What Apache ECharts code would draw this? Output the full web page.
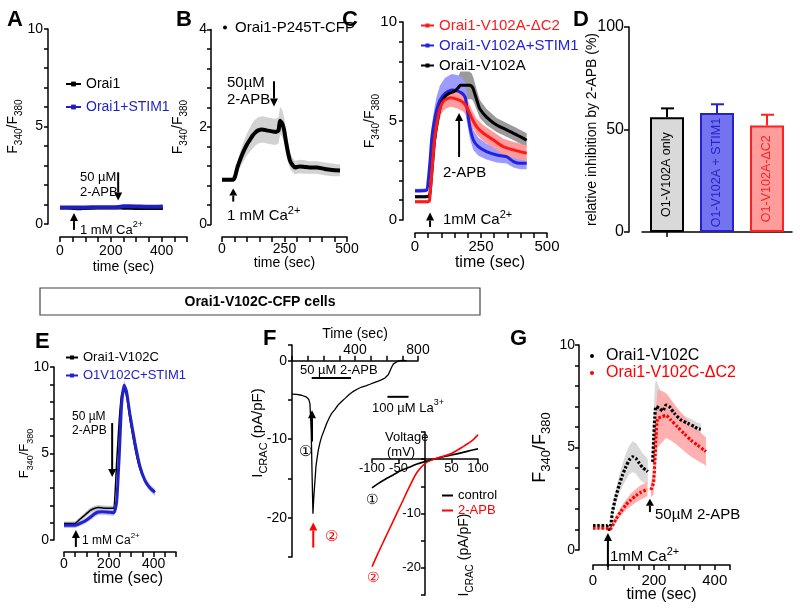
<!DOCTYPE html>
<html><head><meta charset="utf-8">
<script src="https://cdn.jsdelivr.net/npm/echarts@6/dist/echarts.min.js"></script>
<style>html,body{margin:0;padding:0;background:#fff}#c{width:800px;height:615px}</style>
</head><body><div id="c"></div>
<script>
const FONT = '"Liberation Sans", Arial, Helvetica, sans-serif';

// ---------------- Panel A ----------------
const aTime = [0, 25, 50, 75, 100, 150, 200, 230, 250, 300, 350, 405];
const aOrai1 = [0.82, 0.82, 0.80, 0.78, 0.80, 0.82, 0.83, 0.82, 0.81, 0.80, 0.79, 0.80];
const aOrai1Stim1 = [0.85, 0.85, 0.84, 0.84, 0.85, 0.86, 0.86, 0.87, 0.91, 0.90, 0.88, 0.90];
const aXLabels = [0, 200, 400];
const aYLabels = [0, 5, 10];

// ---------------- Panel B ----------------
const bTime = [0, 20, 44, 52, 62, 72, 82, 92, 102, 112, 122, 132, 145, 160, 180, 200, 214, 226, 232, 240, 248, 256, 264, 272, 282, 292, 310, 330, 350, 380, 410, 440, 472];
const bMean = [0.92, 0.92, 0.92, 0.98, 1.18, 1.32, 1.45, 1.56, 1.66, 1.74, 1.82, 1.88, 1.93, 1.95, 1.93, 1.91, 1.90, 1.93, 2.13, 2.08, 1.95, 1.70, 1.48, 1.31, 1.22, 1.17, 1.19, 1.18, 1.17, 1.17, 1.14, 1.12, 1.11];
const bSem = [0.04, 0.04, 0.04, 0.06, 0.12, 0.16, 0.19, 0.21, 0.23, 0.25, 0.26, 0.27, 0.27, 0.27, 0.27, 0.27, 0.27, 0.27, 0.28, 0.28, 0.26, 0.23, 0.19, 0.16, 0.15, 0.14, 0.14, 0.14, 0.13, 0.13, 0.13, 0.13, 0.12];
const bXLabels = [0, 250, 500];
const bYLabels = [0, 2, 4];

// ---------------- Panel C ----------------
const cBlueTime = [0, 20, 44, 50, 57, 64, 72, 82, 95, 114, 139, 160, 178, 190, 198, 208, 221, 240, 271, 309, 347, 373, 398, 423];
const cBlueMean = [1.48, 1.48, 1.5, 2.0, 3.0, 4.2, 4.9, 5.55, 6.06, 6.4, 6.57, 6.52, 6.4, 6.2, 5.56, 4.7, 4.04, 3.7, 3.45, 3.28, 3.2, 2.95, 2.86, 2.86];
const cBlueSem = [0.1, 0.1, 0.1, 0.3, 0.5, 0.6, 0.65, 0.7, 0.75, 0.78, 0.8, 0.8, 0.78, 0.75, 0.7, 0.6, 0.5, 0.45, 0.4, 0.38, 0.35, 0.3, 0.3, 0.3];
const cRedTime = [0, 20, 40, 54, 57, 63, 72, 82, 95, 108, 133, 158, 183, 198, 215, 234, 259, 297, 335, 373, 423];
const cRedMean = [0.92, 0.92, 0.92, 0.95, 1.3, 2.3, 3.8, 4.8, 5.66, 6.0, 6.18, 6.1, 5.93, 5.66, 5.15, 4.7, 4.38, 4.04, 3.7, 3.54, 3.37];
const cRedSem = [0.08, 0.08, 0.08, 0.1, 0.2, 0.3, 0.4, 0.45, 0.45, 0.45, 0.45, 0.45, 0.45, 0.45, 0.42, 0.4, 0.4, 0.4, 0.4, 0.4, 0.4];
const cBlackTime = [0, 20, 40, 54, 58, 65, 74, 85, 98, 112, 130, 150, 165, 172, 205, 215, 221, 234, 246, 271, 309, 347, 385, 423];
const cBlackMean = [1.18, 1.18, 1.18, 1.2, 1.5, 2.6, 4.0, 5.0, 5.8, 6.2, 6.4, 6.5, 6.7, 6.8, 6.8, 6.75, 6.6, 6.06, 5.6, 5.2, 4.8, 4.55, 4.3, 4.03];
const cBlackSem = [0.08, 0.08, 0.08, 0.1, 0.2, 0.3, 0.4, 0.45, 0.45, 0.45, 0.45, 0.5, 0.6, 0.7, 0.7, 0.65, 0.6, 0.5, 0.45, 0.4, 0.35, 0.35, 0.35, 0.35];
const cXLabels = [0, 250, 500];
const cYLabels = [0, 5, 10];

// ---------------- Panel D ----------------
const dCats = ['O1-V102A only', 'O1-V102A + STIM1', 'O1-V102A-\u0394C2'];
const dMean = [56, 58, 52];
const dErr = [4.3, 4.3, 5.2];
const dYLabels = [0, 50, 100];

// ---------------- Panel E ----------------
const eTime = [0, 21, 49, 71, 94, 116, 135, 153, 172, 190, 207, 223, 235, 247, 257, 268, 279, 294, 317, 339, 361, 384, 406];
const eBlack = [0.95, 0.95, 0.95, 1.2, 1.45, 1.7, 1.82, 1.88, 1.85, 1.83, 1.83, 1.83, 4.5, 7.0, 8.4, 8.7, 8.4, 7.0, 5.3, 4.1, 3.45, 3.05, 2.8];
const eBlackSem = [0.12, 0.12, 0.12, 0.12, 0.14, 0.15, 0.15, 0.15, 0.15, 0.15, 0.15, 0.15, 0.2, 0.25, 0.25, 0.25, 0.25, 0.2, 0.18, 0.15, 0.15, 0.15, 0.15];
const eBlue = [0.85, 0.85, 0.85, 0.96, 1.1, 1.3, 1.5, 1.62, 1.64, 1.62, 1.6, 1.58, 2.2, 5.0, 7.8, 8.95, 8.6, 7.3, 5.6, 4.25, 3.45, 3.0, 2.75];
const eBlueSem = [0.15, 0.15, 0.15, 0.15, 0.16, 0.18, 0.18, 0.18, 0.18, 0.18, 0.18, 0.18, 0.2, 0.25, 0.28, 0.28, 0.28, 0.25, 0.22, 0.2, 0.2, 0.2, 0.2];
const eXLabels = [0, 200, 400];
const eYLabels = [0, 5, 10];

// ---------------- Panel F ----------------
const fTime = [0, 30, 61, 89, 106, 114, 122, 128, 133, 138, 145, 152, 160, 167, 178, 188, 205, 220, 236, 252, 273, 294, 315, 337, 363, 390, 416, 442, 468, 495, 521, 548, 570, 590, 600, 611, 622, 633, 644, 654, 670, 686, 705, 728];
const fCurrent = [-4.25, -4.3, -4.4, -4.6, -4.9, -5.5, -9.0, -15.0, -19.5, -17.5, -15.5, -13.5, -12.3, -11.4, -10.4, -9.7, -8.8, -8.0, -7.3, -6.7, -6.2, -5.6, -5.2, -4.8, -4.3, -3.9, -3.6, -3.35, -3.2, -3.0, -2.8, -2.6, -2.4, -2.2, -2.1, -1.8, -1.3, -0.8, -0.4, -0.2, -0.1, 0.0, 0.05, 0.0];
const fXLabels = [400, 800];
const fYLabels = [0, -10, -20];
const ivVolt = [-100, -90, -75, -60, -45, -30, -15, 0, 15, 30, 50, 70, 90, 100];
const ivControl = [-5.3, -4.6, -3.7, -2.9, -2.1, -1.5, -0.9, -0.45, -0.05, 0.35, 0.75, 1.2, 1.7, 1.9];
const iv2APB = [-19.8, -17.6, -14.5, -11.4, -8.3, -5.2, -2.4, -0.8, -0.06, 0.4, 1.05, 2.2, 3.5, 4.5];
const ivXLabels = [-100, -50, 50, 100];
const ivYLabels = [-10, -20];

// ---------------- Panel G ----------------
const gBlackTime = [0, 20, 44, 53, 59, 64, 75, 86, 97, 108, 119, 130, 141, 152, 163, 174, 180, 188, 196, 200, 203, 207, 218, 229, 240, 251, 267, 289, 311, 333, 343, 354];
const gBlackMean = [1.19, 1.19, 1.19, 1.0, 1.28, 1.87, 2.6, 3.17, 3.66, 4.06, 4.39, 4.55, 4.47, 4.23, 4.02, 3.9, 3.82, null, 4.3, 5.6, 6.5, 6.99, 6.91, 6.78, 7.07, 6.99, 6.67, 6.34, 6.18, 6.02, 5.93, 5.89];
const gBlackSem = [0.05, 0.05, 0.05, 0.05, 0.1, 0.2, 0.35, 0.45, 0.55, 0.65, 0.7, 0.75, 0.75, 0.75, 0.7, 0.65, 0.6, null, 1.0, 1.4, 1.5, 1.3, 1.0, 0.6, 0.45, 0.35, 0.3, 0.3, 0.28, 0.28, 0.28, 0.28];
const gRedTime = [0, 20, 44, 53, 59, 75, 91, 108, 124, 141, 157, 174, 179, 185, 190, 199, 204, 207, 212, 223, 240, 256, 278, 300, 322, 343, 365, 371];
const gRedMean = [1.06, 1.06, 1.06, 1.0, 1.05, 1.5, 1.87, 2.2, 2.44, 2.65, 2.81, 2.93, 2.97, null, 2.93, 3.3, 4.6, 5.58, 6.4, 6.48, 6.56, 6.34, 6.0, 5.67, 5.35, 5.12, 4.87, 4.8];
const gRedSem = [0.04, 0.04, 0.04, 0.05, 0.08, 0.15, 0.2, 0.25, 0.3, 0.33, 0.35, 0.35, 0.35, null, 0.35, 0.6, 1.0, 1.3, 1.4, 1.3, 1.1, 1.0, 0.9, 0.85, 0.8, 0.75, 0.7, 0.7];
const gXLabels = [0, 200, 400];
const gYLabels = [0, 5, 10];

// ---------------- helpers ----------------
function pairs(t, v) { return t.map((x, i) => [x, v[i] == null ? null : v[i]]); }
function merge(a, b) {
  const out = Object.assign({}, a);
  for (const k in b) {
    const v = b[k];
    if (v && typeof v === 'object' && !Array.isArray(v) && typeof v !== 'function' && out[k] && typeof out[k] === 'object' && !Array.isArray(out[k])) out[k] = merge(out[k], v);
    else out[k] = v;
  }
  return out;
}
const showOnly = (list) => (v) => { for (const l of list) if (Math.abs(v - l) < 0.01) return String(l); return ''; };
function valAxis(gi, cfg) {
  const base = {
    gridIndex: gi, type: 'value',
    axisLine: { show: true, onZero: false, lineStyle: { color: '#000', width: 1.5 } },
    axisTick: { show: true, length: 5, lineStyle: { color: '#000', width: 1.5 } },
    minorTick: { show: false }, splitLine: { show: false }, minorSplitLine: { show: false },
    axisLabel: { color: '#000', fontFamily: FONT, fontSize: 14, margin: 6, hideOverlap: false },
    nameTextStyle: { color: '#000', fontFamily: FONT, fontSize: 14 },
    nameLocation: 'middle', nameMoveOverlap: false
  };
  return merge(base, cfg);
}
function subRich(size) {
  return {
    n: { fontSize: size, fontFamily: FONT, color: '#000', fill: '#000', lineHeight: size + 8, verticalAlign: 'middle' },
    s: { fontSize: Math.round(size * 0.7), fontFamily: FONT, color: '#000', fill: '#000', lineHeight: 12, verticalAlign: 'bottom' }
  };
}
function supRich(size, color) {
  color = color || '#000';
  return {
    n: { fontSize: size, fontFamily: FONT, color: color, fill: color, lineHeight: size + 7, verticalAlign: 'middle' },
    p: { fontSize: Math.round(size * 0.7), fontFamily: FONT, color: color, fill: color, lineHeight: 10, verticalAlign: 'top' }
  };
}
const F340 = '{n|F}{s|340}{n|/F}{s|380}';

// shaded mean +/- sem band drawn through the axis scales (api.coord)
function band(gi, t, mean, sem, color, opacity, z) {
  const lo = mean.map((m, i) => m == null ? null : m - sem[i]);
  const hi = mean.map((m, i) => m == null ? null : m + sem[i]);
  return {
    type: 'custom', xAxisIndex: gi, yAxisIndex: gi, silent: true, z: z || 1, clip: true,
    data: t.map((x, i) => [x, lo[i], hi[i]]),
    encode: { x: 0, y: [1, 2] },
    renderItem: (params, api) => {
      if (params.dataIndex !== 0) return null;
      const segs = []; let cur = [];
      for (let j = 0; j < t.length; j++) {
        if (lo[j] == null) { if (cur.length) segs.push(cur); cur = []; } else cur.push(j);
      }
      if (cur.length) segs.push(cur);
      return { type: 'group', children: segs.filter(s => s.length > 1).map(s => {
        const top = s.map(j => api.coord([t[j], hi[j]]));
        const bot = s.slice().reverse().map(j => api.coord([t[j], lo[j]]));
        return { type: 'polygon', shape: { points: top.concat(bot) }, style: { fill: color, opacity: opacity == null ? 1 : opacity } };
      }) };
    }
  };
}
function trace(name, gi, t, v, color, width, extra) {
  return merge({ name: name, type: 'line', xAxisIndex: gi, yAxisIndex: gi, data: pairs(t, v), symbol: 'rect', symbolSize: 4, showSymbol: false, smooth: 0.2,
    lineStyle: { color: color, width: width }, itemStyle: { color: color }, z: 3 }, extra || {});
}

const dFill = ['#d9d9d9', '#7373f0', '#ff9d9d'];
const dEdge = ['#000000', '#2323c8', '#ff2020'];

const gridF = { left: 292, top: 345, width: 126, height: 212 };
const gridIV = { left: 372, top: 432, width: 106, height: 163 };
const fYMin = -25, fYMax = 2, ivYMin = -25, ivYMax = 5, ivXMin = -100, ivXMax = 100;

const grids = [
  { left: 60, top: 29, width: 127, height: 195 },    // A
  { left: 222, top: 29.5, width: 125, height: 195 }, // B
  { left: 415, top: 22, width: 132, height: 198 },   // C
  { left: 642, top: 27, width: 150, height: 205 },   // D
  { left: 64, top: 367, width: 112, height: 173 },   // E
  gridF,                                             // F main
  gridIV,                                            // F inset
  { left: 593, top: 345, width: 137, height: 205 }   // G
].map(g => Object.assign({ outerBoundsMode: 'none', containLabel: false }, g));

// axis positions on the zero lines (F panels)
const fXOffset = -(fYMax / (fYMax - fYMin)) * gridF.height;
const ivXOffset = -((0 - ivYMin) / (ivYMax - ivYMin)) * gridIV.height;
const ivYOffset = -((0 - ivXMin) / (ivXMax - ivXMin)) * gridIV.width;

const xAxis = [
  valAxis(0, { min: 0, max: 500, interval: 50, offset: 13, axisLabel: { formatter: showOnly(aXLabels), margin: 7 }, name: 'time (sec)', nameGap: 23 }),
  valAxis(1, { min: 0, max: 500, interval: 50, offset: 12.5, axisLabel: { formatter: showOnly(bXLabels), margin: 5 }, name: 'time (sec)', nameGap: 19 }),
  valAxis(2, { min: 0, max: 500, interval: 50, offset: 13, axisLabel: { formatter: showOnly(cXLabels), margin: 6, fontSize: 15 }, name: 'time (sec)', nameGap: 22, nameTextStyle: { fontSize: 16, padding: [0, 0, 0, 18] } }),
  { gridIndex: 3, type: 'category', data: dCats, offset: 13,
    axisLine: { show: true, lineStyle: { color: '#000', width: 1.5 } },
    axisTick: { show: true, alignWithLabel: true, length: 5, lineStyle: { color: '#000', width: 1.5 } },
    axisLabel: { show: false }, splitLine: { show: false } },
  valAxis(4, { min: 0, max: 500, interval: 50, offset: 12, axisLabel: { formatter: showOnly(eXLabels), margin: 5 }, name: 'time (sec)', nameGap: 19, nameTextStyle: { fontSize: 16, padding: [0, 0, 0, 16] } }),
  valAxis(5, { min: 0, max: 800, interval: 100, position: 'top', offset: fXOffset, axisLabel: { formatter: showOnly(fXLabels), margin: 4 }, name: 'Time (sec)', nameGap: 20 }),
  valAxis(6, { min: ivXMin, max: ivXMax, interval: 50, position: 'bottom', offset: ivXOffset, axisTick: { length: 4 }, axisLabel: { formatter: showOnly(ivXLabels), fontSize: 13, margin: 3 } }),
  valAxis(7, { min: 0, max: 450, interval: 50, offset: 15, axisLabel: { formatter: showOnly(gXLabels), margin: 8, fontSize: 15 }, name: 'time (sec)', nameGap: 22, nameTextStyle: { fontSize: 16 } })
];

const yAxis = [
  valAxis(0, { min: 0, max: 10, interval: 1, offset: 12, axisTick: { length: 4 }, axisLabel: { formatter: showOnly(aYLabels), margin: 5 }, name: F340, nameGap: 24, nameTextStyle: { rich: subRich(14) } }),
  valAxis(1, { min: 0, max: 4, interval: 0.4, offset: 11, axisTick: { length: 4 }, axisLabel: { formatter: showOnly(bYLabels), margin: 4 }, name: F340, nameGap: 22, nameTextStyle: { rich: subRich(14) } }),
  valAxis(2, { min: 0, max: 10, interval: 1, offset: 12, axisTick: { length: 4 }, axisLabel: { formatter: showOnly(cYLabels), margin: 6, fontSize: 15 }, name: F340, nameGap: 22, nameTextStyle: { rich: subRich(14) } }),
  valAxis(3, { min: 0, max: 100, interval: 50, offset: 13, axisLabel: { formatter: showOnly(dYLabels), margin: 5, fontSize: 16 }, name: 'relative inhibition by 2-APB (%)', nameGap: 30, nameTextStyle: { fontSize: 14 } }),
  valAxis(4, { min: 0, max: 10, interval: 1, offset: 10, axisTick: { length: 4 }, axisLabel: { formatter: showOnly(eYLabels), margin: 5 }, name: F340, nameGap: 19, nameTextStyle: { rich: subRich(13) } }),
  valAxis(5, { min: fYMin, max: fYMax, interval: 5, axisTick: { length: 4 }, axisLabel: { formatter: showOnly(fYLabels), margin: 5 } }),
  valAxis(6, { min: ivYMin, max: ivYMax, interval: 5, position: 'left', offset: ivYOffset, axisTick: { length: 4 }, axisLabel: { formatter: showOnly(ivYLabels), fontSize: 13, margin: 4 } }),
  valAxis(7, { min: 0, max: 10, interval: 1, offset: 14, axisTick: { length: 4 }, axisLabel: { formatter: showOnly(gYLabels), margin: 4 }, name: F340, nameGap: 26, nameTextStyle: { rich: subRich(18) } })
];

const legTxt = (size) => ({ fontFamily: FONT, fontSize: size, color: '#000' });
const legend = [
  { left: 60, top: 72, orient: 'vertical', itemWidth: 15, itemHeight: 6, itemGap: 9, selectedMode: false, textStyle: legTxt(14),
    data: [{ name: 'Orai1' }, { name: 'Orai1+STIM1', textStyle: { color: '#1f1fbf' } }] },
  { left: 218, top: 15, orient: 'vertical', itemWidth: 10, itemHeight: 4, selectedMode: false, textStyle: legTxt(15),
    data: [{ name: 'Orai1-P245T-CFP', icon: 'circle' }] },
  { left: 415, top: 13, orient: 'vertical', itemWidth: 13, itemHeight: 5, itemGap: 5, selectedMode: false, textStyle: legTxt(15),
    data: [{ name: 'Orai1-V102A-\u0394C2', textStyle: { color: '#ff1a1a' } }, { name: 'Orai1-V102A+STIM1', textStyle: { color: '#2222dd' } }, { name: 'Orai1-V102A' }] },
  { left: 60, top: 346, orient: 'vertical', itemWidth: 12, itemHeight: 5, itemGap: 5, selectedMode: false, textStyle: legTxt(13),
    data: [{ name: 'Orai1-V102C' }, { name: 'O1V102C+STIM1', textStyle: { color: '#2222cc' } }] },
  { left: 437, top: 484, orient: 'vertical', itemWidth: 11, itemHeight: 2, itemGap: 2, selectedMode: false, textStyle: legTxt(13),
    data: [{ name: 'control', icon: 'rect' }, { name: '2-APB', icon: 'rect', textStyle: { color: '#ff0000' } }] },
  { left: 585, top: 343, orient: 'vertical', itemWidth: 18, itemHeight: 4, itemGap: 1, selectedMode: false, textStyle: legTxt(16),
    data: [{ name: 'Orai1-V102C ', icon: 'circle' }, { name: 'Orai1-V102C-\u0394C2', icon: 'circle', textStyle: { color: '#ff0000' } }] }
];

const series = [
  // A
  trace('Orai1', 0, aTime, aOrai1, '#000', 3),
  trace('Orai1+STIM1', 0, aTime, aOrai1Stim1, '#1f1fbf', 4, { z: 4 }),
  // B
  band(1, bTime, bMean, bSem, '#d2d2d2', 1),
  trace('Orai1-P245T-CFP', 1, bTime, bMean, '#000', 4),
  // C
  band(2, cBlackTime, cBlackMean, cBlackSem, '#9a9a9a', 1, 1),
  band(2, cBlueTime, cBlueMean, cBlueSem, '#9c9cff', 1, 1),
  band(2, cRedTime, cRedMean, cRedSem, '#ff9b9b', 1, 1),
  trace('Orai1-V102A+STIM1', 2, cBlueTime, cBlueMean, '#2222dd', 3),
  trace('Orai1-V102A', 2, cBlackTime, cBlackMean, '#000', 3),
  trace('Orai1-V102A-\u0394C2', 2, cRedTime, cRedMean, '#ff1a1a', 3),
  // D
  { name: 'inhibition', type: 'bar', xAxisIndex: 3, yAxisIndex: 3, barWidth: 34, z: 2,
    data: dMean.map((v, i) => ({ value: v, itemStyle: { color: dFill[i], borderColor: dEdge[i], borderWidth: 2 },
      label: { color: dEdge[i] } })),
    label: { show: true, position: 'inside', rotate: 90, formatter: '{b}', fontFamily: FONT, fontSize: 12.5 } },
  { name: 'inhibitionErr', type: 'custom', xAxisIndex: 3, yAxisIndex: 3, z: 3, silent: true,
    data: dMean.map((m, i) => [i, m, m + dErr[i]]),
    renderItem: (p, api) => {
      const i = p.dataIndex;
      const base = api.coord([api.value(0), api.value(1)]);
      const top = api.coord([api.value(0), api.value(2)]);
      const c = dEdge[i];
      return { type: 'group', children: [
        { type: 'line', shape: { x1: base[0], y1: base[1], x2: top[0], y2: top[1] }, style: { stroke: c, lineWidth: 2 } },
        { type: 'line', shape: { x1: top[0] - 6, y1: top[1], x2: top[0] + 7, y2: top[1] }, style: { stroke: c, lineWidth: 2 } }
      ] };
    } },
  // E
  band(4, eTime, eBlack, eBlackSem, '#c4c4c4', 1, 1),
  band(4, eTime, eBlue, eBlueSem, '#bdbdff', 1, 1),
  trace('Orai1-V102C', 4, eTime, eBlack, '#000', 1.5, { smooth: 0.1 }),
  trace('O1V102C+STIM1', 4, eTime, eBlue, '#2222cc', 3, { smooth: 0.2 }),
  // F
  trace('Icrac', 5, fTime, fCurrent, '#000', 1.3, { smooth: false }),
  trace('control', 6, ivVolt, ivControl, '#000', 1.6, { smooth: 0.3, symbol: 'none' }),
  trace('2-APB', 6, ivVolt, iv2APB, '#ff0000', 1.6, { smooth: 0.3, symbol: 'none' }),
  // G
  band(7, gBlackTime, gBlackMean, gBlackSem, '#d9d9d9', 1, 1),
  band(7, gRedTime, gRedMean, gRedSem, '#ffa3a3', 0.85, 1),
  trace('Orai1-V102C ', 7, gBlackTime, gBlackMean, '#000', 3.2, { symbol: 'circle', lineStyle: { type: [2.5, 1.8] } }),
  trace('Orai1-V102C-\u0394C2', 7, gRedTime, gRedMean, '#ff0000', 3.2, { symbol: 'circle', lineStyle: { type: [2.5, 1.8] } })
];

const chart = echarts.init(document.getElementById('c'), null, { renderer: 'canvas' });
chart.setOption({ animation: false, backgroundColor: '#fff', textStyle: { fontFamily: FONT },
  grid: grids, xAxis: xAxis, yAxis: yAxis, legend: legend, series: series });

// ---------------- annotations ----------------
const arrows = [
  { g: 0, x: 55, y0: -0.3, y1: 0.56 },
  { g: 0, x: 229, y0: 2.65, y1: 1.2 },
  { g: 1, x: 45, y0: 0.47, y1: 0.74, head: 7 },
  { g: 1, x: 208, y0: 2.94, y1: 2.42 },
  { g: 2, x: 57, y0: -0.35, y1: 0.38 },
  { g: 2, x: 167, y0: 3.18, y1: 5.4 },
  { g: 4, x: 53, y0: -0.4, y1: 0.58 },
  { g: 4, x: 215, y0: 6.76, y1: 3.64 },
  { g: 5, x: 127, y0: -10.3, y1: -6.3 },
  { g: 5, x: 135, y0: -23.8, y1: -20.6, color: '#ff0000' },
  { g: 7, x: 49, y0: -0.83, y1: 0.83 },
  { g: 7, x: 187, y0: 1.85, y1: 2.5, head: 7 }
];
const fBars = [
  { g: 5, x0: 125, x1: 375, y: -2.2 },
  { g: 5, x0: 606, x1: 740, y: -4.6 }
];
const gr = [];
arrows.forEach(a => {
  const p0 = chart.convertToPixel({ gridIndex: a.g }, [a.x, a.y0]);
  const p1 = chart.convertToPixel({ gridIndex: a.g }, [a.x, a.y1]);
  const col = a.color || '#000';
  const dir = p1[1] > p0[1] ? 1 : -1;
  const hl = a.head || 8, hw = 4;
  const by = p1[1] - dir * hl;
  gr.push({ type: 'line', z: 50, shape: { x1: p0[0], y1: p0[1], x2: p1[0], y2: by }, style: { stroke: col, lineWidth: 2 } });
  gr.push({ type: 'polygon', z: 50, shape: { points: [[p1[0], p1[1]], [p1[0] - hw, by], [p1[0] + hw, by]] }, style: { fill: col } });
});
fBars.forEach(b => {
  const p0 = chart.convertToPixel({ gridIndex: b.g }, [b.x0, b.y]);
  const p1 = chart.convertToPixel({ gridIndex: b.g }, [b.x1, b.y]);
  gr.push({ type: 'line', z: 50, shape: { x1: p0[0], y1: p0[1], x2: p1[0], y2: p1[1] }, style: { stroke: '#000', lineWidth: 2 } });
});
function txt(x, y, text, o) {
  o = o || {};
  const st = { text: text, fontSize: o.size || 13, fontFamily: FONT, fontWeight: o.bold ? 'bold' : 'normal', fill: o.color || '#000',
    align: o.align || 'left', verticalAlign: o.va || 'middle', textAlign: o.align || 'left', textVerticalAlign: o.va || 'middle' };
  if (o.rich) st.rich = o.rich;
  return { type: 'text', x: x, y: y, z: 60, rotation: o.rot || 0, style: st };
}
[['A', 7, 9], ['B', 176, 9], ['C', 342, 9], ['D', 573, 9], ['E', 35, 331], ['F', 263, 328], ['G', 510, 328]].forEach(l =>
  gr.push(txt(l[1], l[2], l[0], { size: 22, bold: true, va: 'top' })));
gr.push({ type: 'rect', z: 40, shape: { x: 40, y: 288, width: 440, height: 27 }, style: { fill: 'none', stroke: '#444', lineWidth: 1.2 } });
gr.push(txt(260, 302, 'Orai1-V102C-CFP cells', { size: 14, bold: true, align: 'center' }));
// A
gr.push(txt(80, 177, '50 \u00b5M', { size: 13 }));
gr.push(txt(80, 192, '2-APB', { size: 13 }));
gr.push(txt(80, 230, '{n|1 mM Ca}{p|2+}', { rich: supRich(13) }));
// B
gr.push(txt(227, 83, '50\u00b5M', { size: 15 }));
gr.push(txt(227, 100, '2-APB', { size: 15 }));
gr.push(txt(227, 216, '{n|1 mM Ca}{p|2+}', { rich: supRich(15) }));
// C
gr.push(txt(443, 173, '2-APB', { size: 15 }));
gr.push(txt(443, 220, '{n|1mM Ca}{p|2+}', { rich: supRich(15) }));
// E
gr.push(txt(72, 417, '50 \u00b5M', { size: 12 }));
gr.push(txt(72, 431, '2-APB', { size: 12 }));
gr.push(txt(82, 541, '{n|1 mM Ca}{p|2+}', { rich: supRich(12) }));
// F
gr.push(txt(300, 370, '50 \u00b5M 2-APB', { size: 13 }));
gr.push(txt(372, 408, '{n|100 \u00b5M La}{p|3+}', { rich: supRich(13) }));
gr.push(txt(305, 452, '\u2460', { size: 15, align: 'center' }));
gr.push(txt(331, 537, '\u2461', { size: 15, align: 'center', color: '#ff0000' }));
gr.push(txt(258, 433, '{n|I}{s|CRAC}{n| (pA/pF)}', { rot: Math.PI / 2, align: 'center', rich: subRich(15) }));
gr.push(txt(385, 437, 'Voltage', { size: 13 }));
gr.push(txt(387, 452, '(mV)', { size: 13 }));
gr.push(txt(372, 500, '\u2460', { size: 14, align: 'center' }));
gr.push(txt(373, 578, '\u2461', { size: 14, align: 'center', color: '#ff0000' }));
gr.push(txt(464, 555, '{n|I}{s|CRAC}{n| (pA/pF)}', { rot: Math.PI / 2, align: 'center', rich: subRich(14) }));
// G
gr.push(txt(610, 557, '{n|1mM Ca}{p|2+}', { rich: supRich(15) }));
gr.push(txt(655, 515, '50\u00b5M 2-APB', { size: 15 }));

chart.setOption({ graphic: gr });
</script></body></html>
